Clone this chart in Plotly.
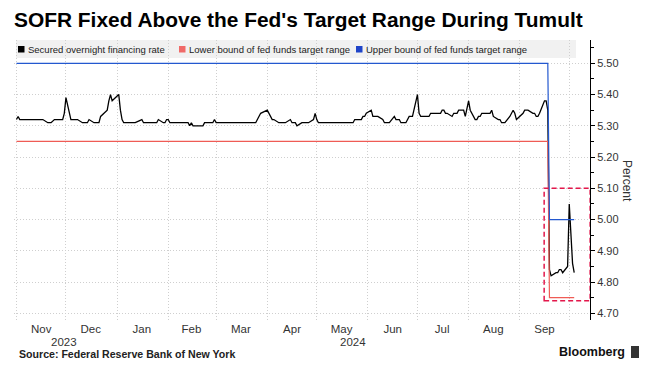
import pandas as pd
import plotly.graph_objects as go

# ---------------- data ----------------
sofr_2023_11 = [5.32, 5.33, 5.32, 5.32, 5.32, 5.32, 5.32, 5.32, 5.32, 5.32, 5.32, 5.32, 5.32,
                5.31, 5.31, 5.31, 5.32, 5.32, 5.32, 5.32, 5.34]
sofr_2023_12 = [5.39, 5.32, 5.32, 5.32, 5.32, 5.32, 5.31, 5.31, 5.31, 5.31, 5.32,
                5.31, 5.31, 5.31, 5.31, 5.33, 5.35, 5.38, 5.40, 5.38]
sofr_2024_01 = [5.40, 5.35, 5.32, 5.31, 5.31, 5.31, 5.31, 5.31, 5.31, 5.32, 5.31, 5.31, 5.31,
                5.31, 5.31, 5.31, 5.31, 5.32, 5.31, 5.31, 5.32]
sofr_2024_02 = [5.32, 5.31, 5.31, 5.31, 5.31, 5.31, 5.31, 5.31, 5.31, 5.30, 5.31, 5.30,
                5.30, 5.30, 5.30, 5.31, 5.31, 5.31, 5.31, 5.32]
sofr_2024_03 = [5.31, 5.31, 5.31, 5.31, 5.31, 5.31, 5.31, 5.31, 5.31, 5.31, 5.31,
                5.31, 5.31, 5.31, 5.31, 5.31, 5.31, 5.32, 5.33, 5.34]
sofr_2024_04 = [5.35, 5.34, 5.33, 5.32, 5.32, 5.31, 5.31, 5.31, 5.31, 5.31, 5.32, 5.31,
                5.31, 5.31, 5.30, 5.31, 5.31, 5.31, 5.31, 5.31, 5.32, 5.34]
sofr_2024_05 = [5.32, 5.31, 5.31, 5.31, 5.31, 5.31, 5.31, 5.31, 5.31, 5.31, 5.31, 5.31,
                5.31, 5.31, 5.31, 5.31, 5.31, 5.32, 5.32, 5.33, 5.33, 5.34]
sofr_2024_06 = [5.35, 5.33, 5.33, 5.33, 5.33, 5.32, 5.31, 5.31, 5.31, 5.31, 5.33, 5.32,
                5.32, 5.31, 5.31, 5.32, 5.33, 5.33, 5.33]
sofr_2024_07 = [5.40, 5.34, 5.33, 5.33, 5.33, 5.34, 5.34, 5.34, 5.34, 5.34, 5.35, 5.35,
                5.34, 5.34, 5.33, 5.34, 5.34, 5.34, 5.35, 5.35, 5.33, 5.36]
sofr_2024_08 = [5.38, 5.35, 5.32, 5.32, 5.33, 5.33, 5.34, 5.34, 5.34, 5.34, 5.35, 5.33,
                5.32, 5.32, 5.31, 5.31, 5.31, 5.33, 5.34, 5.35, 5.34, 5.32]
sofr_2024_09 = [5.34, 5.35, 5.35, 5.35, 5.34, 5.34, 5.33, 5.33, 5.34, 5.38, 5.38, 5.35,
                4.84, 4.82, 4.83, 4.83, 4.84, 4.84, 4.83, 4.85]
sofr_2024_10 = [5.05, 4.93, 4.86, 4.83]

market_holidays = ["2023-11-23", "2023-12-25", "2024-01-01", "2024-01-15", "2024-02-19",
                   "2024-03-29", "2024-05-27", "2024-06-19", "2024-07-04", "2024-09-02"]

fed_dates = ["2023-11-01", "2024-09-18", "2024-09-19", "2024-10-04"]
upper_bound = [5.50, 5.50, 5.00, 5.00]
lower_bound = [5.25, 5.25, 4.75, 4.75]

month_labels = ["Nov", "Dec", "Jan", "Feb", "Mar", "Apr", "May", "Jun", "Jul", "Aug", "Sep"]
month_mid_dates = ["2023-11-16", "2023-12-16", "2024-01-16", "2024-02-15", "2024-03-16",
                   "2024-04-16", "2024-05-16", "2024-06-16", "2024-07-16", "2024-08-16",
                   "2024-09-16"]
year_labels = ["2023", "2024"]
year_label_dates = ["2023-11-30", "2024-05-23"]

y_tick_values = [4.70, 4.80, 4.90, 5.00, 5.10, 5.20, 5.30, 5.40, 5.50]
y_tick_labels = ["4.70", "4.80", "4.90", "5.00", "5.10", "5.20", "5.30", "5.40", "5.50"]

legend_labels = ["Secured overnight financing rate", "Lower bound of fed funds target range",
                 "Upper bound of fed funds target range"]
series_colors = ["#000000", "#ef5b55", "#2358cf"]
legend_colors = ["#000000", "#f06a68", "#1f44c8"]

# ---------------- build dates ----------------
bday = pd.offsets.CustomBusinessDay(holidays=market_holidays)
monthly = [("2023-11-01", "2023-11-30", sofr_2023_11), ("2023-12-01", "2023-12-31", sofr_2023_12),
           ("2024-01-01", "2024-01-31", sofr_2024_01), ("2024-02-01", "2024-02-29", sofr_2024_02),
           ("2024-03-01", "2024-03-31", sofr_2024_03), ("2024-04-01", "2024-04-30", sofr_2024_04),
           ("2024-05-01", "2024-05-31", sofr_2024_05), ("2024-06-01", "2024-06-30", sofr_2024_06),
           ("2024-07-01", "2024-07-31", sofr_2024_07), ("2024-08-01", "2024-08-31", sofr_2024_08),
           ("2024-09-01", "2024-09-30", sofr_2024_09), ("2024-10-01", "2024-10-04", sofr_2024_10)]
sofr_dates, sofr_values = [], []
for start, end, vals in monthly:
    d = pd.date_range(start, end, freq=bday)
    assert len(d) == len(vals), (start, len(d), len(vals))
    sofr_dates += list(d)
    sofr_values += vals

# ---------------- geometry helpers (pixels -> paper) ----------------
W, H = 646, 371
ML, MR, MT, MB = 14, 56, 40, 51
PW, PH = W - ML - MR, H - MT - MB


def px(x):
    return (x - ML) / PW


def py(y):
    return (H - MB - y) / PH


FONT = "Liberation Sans, Arial, sans-serif"

fig = go.Figure()
fig.add_trace(go.Scatter(x=sofr_dates, y=sofr_values, mode="lines", name=legend_labels[0],
                         line=dict(color=series_colors[0], width=1.3), showlegend=False))
fig.add_trace(go.Scatter(x=fed_dates, y=lower_bound, mode="lines", name=legend_labels[1],
                         line=dict(color=series_colors[1], width=1.2), showlegend=False))
fig.add_trace(go.Scatter(x=fed_dates, y=upper_bound, mode="lines", name=legend_labels[2],
                         line=dict(color=series_colors[2], width=1.2), showlegend=False))

shapes = []
# legend band
shapes.append(dict(type="rect", xref="paper", yref="paper", x0=px(16), x1=px(576), y0=py(58), y1=py(40),
                   fillcolor="#f1f1f1", line=dict(width=0), layer="below"))
# highlight box
shapes.append(dict(type="rect", xref="x", yref="y", x0="2024-09-15 19:00", x1="2024-10-13 16:00",
                   y0=4.74, y1=5.10, line=dict(color="#e3174b", width=1.5, dash="5px,3px"),
                   fillcolor="rgba(0,0,0,0)", layer="above"))

annotations = []
legend_x = [18, 179, 356]
for lx, lab, col in zip(legend_x, legend_labels, legend_colors):
    shapes.append(dict(type="rect", xref="paper", yref="paper", x0=px(lx), x1=px(lx + 6.5),
                       y0=py(52.5), y1=py(46), fillcolor=col, line=dict(width=0), layer="above"))
    annotations.append(dict(xref="paper", yref="paper", x=px(lx + 8), y=py(49.3), text=lab,
                            showarrow=False, xanchor="left", yanchor="middle",
                            font=dict(family=FONT, size=9.5, color="#222222")))

for lab, d in zip(year_labels, year_label_dates):
    annotations.append(dict(xref="x", yref="paper", x=d, y=py(342), text=lab, showarrow=False,
                            xanchor="center", yanchor="middle",
                            font=dict(family=FONT, size=11.5, color="#333333")))

annotations.append(dict(xref="paper", yref="paper", x=px(627), y=py(181), text="Percent",
                        textangle=90, showarrow=False, xanchor="center", yanchor="middle",
                        font=dict(family=FONT, size=12, color="#333333")))
annotations.append(dict(xref="paper", yref="paper", x=px(17), y=py(354),
                        text="<b>Source: Federal Reserve Bank of New York</b>", showarrow=False,
                        xanchor="left", yanchor="middle",
                        font=dict(family=FONT, size=10.6, color="#222222")))
annotations.append(dict(xref="paper", yref="paper", x=px(627), y=py(352),
                        text="<b>Bloomberg</b>", showarrow=False, xanchor="right", yanchor="middle",
                        font=dict(family=FONT, size=12.5, color="#111111")))
shapes.append(dict(type="rect", xref="paper", yref="paper", x0=px(631), x1=px(639), y0=py(358),
                   y1=py(346), fillcolor="#333333", line=dict(width=0)))

fig.update_layout(
    width=W, height=H,
    margin=dict(l=ML, r=MR, t=MT, b=MB, pad=0),
    paper_bgcolor="white", plot_bgcolor="white",
    title=dict(text="<b>SOFR Fixed Above the Fed's Target Range During Tumult</b>",
               x=14 / W, xanchor="left", xref="container", y=1 - 19.5 / H, yanchor="middle",
               font=dict(family=FONT, size=20.9, color="#000000")),
    showlegend=False,
    shapes=shapes, annotations=annotations,
    xaxis=dict(type="date", range=["2023-10-30 12:22", "2024-10-13 13:49"],
               tickmode="array", tickvals=month_mid_dates, ticktext=month_labels,
               showgrid=False, ticks="", showline=False, zeroline=False,
               tickfont=dict(family=FONT, size=11.5, color="#333333"),
               minor=dict(tickmode="linear", tick0="2023-11-01", dtick="M1", showgrid=True,
                          gridcolor="#cfcfcf", griddash="1px,2px", gridwidth=1, ticks="")),
    yaxis=dict(side="right", range=[4.6786, 5.5746], tickmode="array", tickvals=y_tick_values,
               ticktext=y_tick_labels, showgrid=True, gridcolor="#cfcfcf", griddash="1px,2px",
               gridwidth=1, showline=True, linecolor="#000000", linewidth=1, ticks="outside",
               ticklen=4, tickcolor="#000000", zeroline=False,
               tickfont=dict(family=FONT, size=11, color="#333333"),
               minor=dict(tickmode="linear", tick0=4.65, dtick=0.05, ticks="outside", ticklen=3,
                          tickcolor="#000000", showgrid=False)),
)

fig.write_html("out.html", config={"displayModeBar": False},
               post_script="document.body.style.margin='0px';document.body.style.overflow='hidden';")
